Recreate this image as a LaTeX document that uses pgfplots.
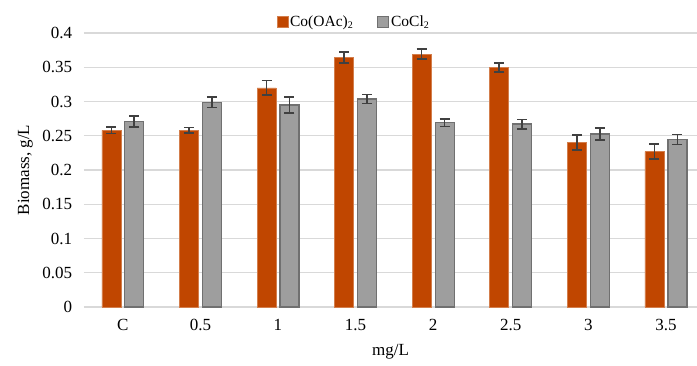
\documentclass[border=0pt]{standalone}
\usepackage{pgfplots}
\pgfplotsset{compat=1.18}
\usepackage{fontspec}
\setmainfont{Liberation Serif}
\definecolor{coorange}{RGB}{192,70,0}
\definecolor{cogray}{RGB}{158,158,158}
\definecolor{cograyedge}{RGB}{112,112,112}
\definecolor{errc}{RGB}{64,64,64}
\definecolor{gridc}{RGB}{217,217,217}
\begin{document}
\fontsize{17pt}{20pt}\selectfont
\begin{tikzpicture}
\useasboundingbox (-84pt,-58pt) rectangle (613pt,307pt);
\begin{axis}[
  scale only axis,
  width=613pt, height=274pt,
  xmin=-0.5, xmax=7.4,
  ymin=0, ymax=0.4,
  ytick={0,0.05,...,0.401},
  yticklabels={0,0.05,0.1,0.15,0.2,0.25,0.3,0.35,0.4},
  xtick={0,1,2,3,4,5,6,7},
  xticklabels={C,0.5,1,1.5,2,2.5,3,3.5},
  ymajorgrids,
  grid style={gridc, line width=1.2pt},
  axis line style={draw=none},
  major tick length=0pt,
  tick label style={font=\fontsize{17pt}{20pt}\selectfont},
  yticklabel style={xshift=-6pt},
  xticklabel style={yshift=-6pt},
  /pgf/number format/assume math mode=true,
  xlabel={mg/L},
  ylabel={Biomass, g/L},
  xlabel style={font=\fontsize{17pt}{20pt}\selectfont, yshift=-2pt},
  ylabel style={font=\fontsize{17pt}{20pt}\selectfont, yshift=-2pt},
  clip=false,
  legend style={at={(0.44,1)}, anchor=south, yshift=0pt, draw=none, fill=none,
    legend columns=2, font=\fontsize{15.5pt}{18pt}\selectfont,
    /tikz/every even column/.append style={column sep=22pt}},
  legend image code/.code={\draw[#1] (0pt,-5.5pt) rectangle (11pt,5.5pt);},
  error bars/error bar style={line width=1.6pt, errc},
  error bars/error mark options={rotate=90, mark size=5pt, line width=1.6pt, draw=errc},
]
\addplot[ybar, bar width=19pt, bar shift=0pt, fill=coorange, draw=coorange!70!white, line width=0.6pt,
  error bars/.cd, y dir=both, y explicit]
  coordinates {
  (-0.148,0.258) +- (0,0.005)
  (0.852,0.258) +- (0,0.004)
  (1.852,0.320) +- (0,0.0105)
  (2.852,0.3645) +- (0,0.008)
  (3.852,0.369) +- (0,0.0073)
  (4.852,0.350) +- (0,0.0066)
  (5.852,0.240) +- (0,0.011)
  (6.852,0.2267) +- (0,0.011)
  };
\addlegendentry{Co(OAc)\raisebox{-2pt}{\fontsize{10pt}{12pt}\selectfont 2}}
\addplot[ybar, bar width=19pt, bar shift=0pt, fill=cogray, draw=cograyedge, line width=1.3pt,
  error bars/.cd, y dir=both, y explicit]
  coordinates {
  (0.148,0.2705) +- (0,0.008)
  (1.148,0.299) +- (0,0.008)
  (2.148,0.295) +- (0,0.0115)
  (3.148,0.3036) +- (0,0.0066)
  (4.148,0.269) +- (0,0.0054)
  (5.148,0.267) +- (0,0.0068)
  (6.148,0.2526) +- (0,0.0085)
  (7.148,0.2447) +- (0,0.0073)
  };
\addlegendentry{CoCl\raisebox{-2pt}{\fontsize{10pt}{12pt}\selectfont 2}}
\end{axis}
\end{tikzpicture}
\end{document}
